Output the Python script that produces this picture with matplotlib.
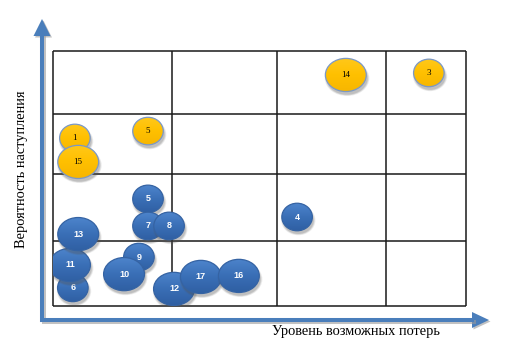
import numpy as np
import matplotlib
matplotlib.use("Agg")
import matplotlib.pyplot as plt
from matplotlib.patches import Ellipse, Polygon
from matplotlib.lines import Line2D
from matplotlib.colors import LinearSegmentedColormap

# Risk map: position of each risk on the loss / probability plane (0-100 scale)
risk_ids = ["3", "14", "1", "15", "5", "4", "5", "7", "8",
            "6", "11", "13", "9", "10", "12", "17", "16"]
loss_level = [91.0, 70.9, 5.3, 6.1, 23.0, 59.1, 23.0, 23.0, 28.1,
              4.8, 4.1, 6.1, 20.8, 17.2, 29.3, 35.8, 45.0]
probability = [91.4, 90.6, 65.9, 56.5, 68.6, 34.9, 42.0, 31.4, 31.4,
               7.1, 16.1, 28.2, 19.2, 12.5, 6.7, 11.4, 11.8]
impact_class = ["small", "large", "small", "large", "small", "small", "small", "small", "small",
                "small", "large", "large", "small", "large", "large", "large", "large"]
zone = ["high", "high", "high", "high", "high", "low", "low", "low", "low",
        "low", "low", "low", "low", "low", "low", "low", "low"]

# Boundaries of the matrix cells
loss_edges = [0, 28.8, 54.2, 80.6, 100]
prob_edges = [0, 25.5, 51.8, 75.3, 100]

x_title = "Уровень возможных потерь"
y_title = "Вероятность наступления"

W, H = 508, 348
fig = plt.figure(figsize=(W / 100, H / 100), dpi=100)
fig.patch.set_facecolor("white")


def fx(px):
    return px / W


def fy(py):
    return 1 - py / H


ax = fig.add_axes([fx(53), fy(306), fx(413), 255 / H])
ax.set_xlim(0, 100)
ax.set_ylim(0, 100)
ax.set_autoscale_on(False)
ax.axis("off")

ax.vlines(loss_edges, 0, 100, color="#1a1a1a", lw=1.1, clip_on=False, zorder=1)
ax.hlines(prob_edges, 0, 100, color="#1a1a1a", lw=1.1, clip_on=False, zorder=1)

ellipse_size = {"small": (7.4, 10.8), "large": (9.9, 13.0)}
blue_map = LinearSegmentedColormap.from_list("blue", ["#4d84cc", "#3a6fb6", "#2f5fa3"])
gold_map = LinearSegmentedColormap.from_list("gold", ["#ffc81a", "#ffc000", "#f7b600"])
grad = np.linspace(0, 1, 64).reshape(-1, 1)

z = 2
for rid, x, y, cls, zn in zip(risk_ids, loss_level, probability, impact_class, zone):
    w, h = ellipse_size[cls]
    # soft drop shadow
    for k, a in enumerate([0.10, 0.14, 0.18]):
        ax.add_patch(Ellipse((x + 0.3, y - 1.3), w + 0.9 - 0.4 * k, h + 0.9 - 0.5 * k,
                             fc="#555555", ec="none", alpha=a, zorder=z))
    body = Ellipse((x, y), w, h, fc="none", ec="none", zorder=z + 1)
    ax.add_patch(body)
    cmap = blue_map if zn == "low" else gold_map
    img = ax.imshow(grad, cmap=cmap, aspect="auto", interpolation="bilinear",
                    extent=(x - w / 2, x + w / 2, y - h / 2, y + h / 2),
                    origin="upper", zorder=z + 1)
    img.set_clip_path(body)
    edge = "#3563a3" if zn == "low" else "#7b98c6"
    ax.add_patch(Ellipse((x, y), w, h, fc="none", ec=edge, lw=0.9, zorder=z + 2))
    if zn == "low":
        ax.text(x, y, rid, color="white", fontsize=6.5, fontweight="bold",
                family="Liberation Sans", ha="center", va="center", zorder=z + 3)
    else:
        ax.text(x, y, rid, color="black", fontsize=6.5,
                family="Liberation Serif", ha="center", va="center", zorder=z + 3)
    z += 4

# Axis arrows drawn in figure space
arrow_col = "#4a7ebb"
shadow_col = "#9a9a9a"
lw = 2.9
for dx, dy, col, al in [(1.5, 1.5, shadow_col, 0.6), (0, 0, arrow_col, 1.0)]:
    fig.add_artist(Line2D([fx(42 + dx), fx(42 + dx), fx(474 + dx)],
                          [fy(34 + dy), fy(320 + dy), fy(320 + dy)],
                          color=col, lw=lw, alpha=al, solid_joinstyle="miter",
                          solid_capstyle="butt"))
    fig.add_artist(Polygon([[fx(42 + dx), fy(19 + dy)], [fx(33.5 + dx), fy(36 + dy)],
                            [fx(50.5 + dx), fy(36 + dy)]],
                           closed=True, fc=col, ec="none", alpha=al))
    fig.add_artist(Polygon([[fx(489 + dx), fy(320 + dy)], [fx(472 + dx), fy(312 + dy)],
                            [fx(472 + dx), fy(328 + dy)]],
                           closed=True, fc=col, ec="none", alpha=al))

fig.text(fx(22), fy(169), y_title, rotation=90, family="Liberation Serif",
         fontsize=10.4, ha="center", va="center", color="black")
fig.text(fx(356), fy(331), x_title, family="Liberation Serif",
         fontsize=10.4, ha="center", va="center", color="black")

fig.savefig("out.png", dpi=100, facecolor="white")
